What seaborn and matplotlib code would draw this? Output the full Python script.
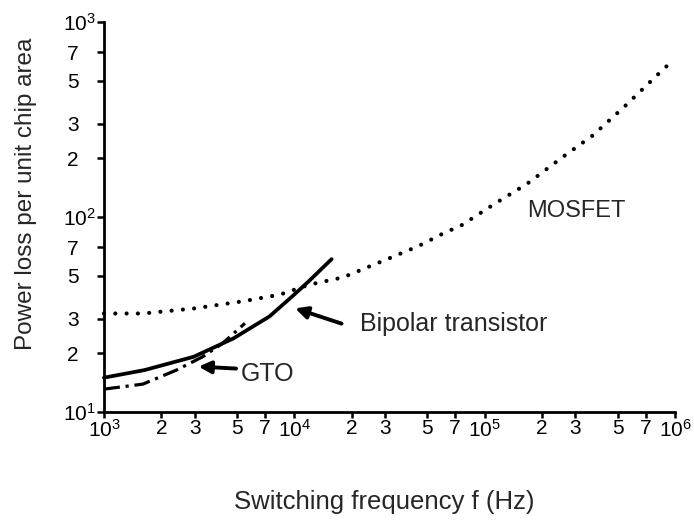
import matplotlib
matplotlib.use("Agg")
import matplotlib.pyplot as plt
import seaborn as sns
import pandas as pd
from matplotlib.ticker import FixedLocator, FixedFormatter

# ---- data (frequency in Hz, power loss per unit chip area) ----
mosfet_f = [1.0e3, 1.6e3, 3.0e3, 5.4e3, 8.4e3, 1.2e4, 1.8e4, 3.1e4, 4.5e4, 6.0e4,
            7.6e4, 1.13e5, 1.67e5, 2.5e5, 3.7e5, 5.5e5, 8.9e5, 1.0e6]
mosfet_p = [32, 32, 34, 37, 40, 45, 49, 61, 71, 82,
            91, 117, 148, 199, 262, 373, 586, 640]

bipolar_f = [1.0e3, 1.63e3, 2.96e3, 4.77e3, 7.4e3, 9.76e3, 1.19e4, 1.57e4]
bipolar_p = [15.0, 16.4, 19.2, 23.8, 30.9, 39.2, 46.8, 60.8]

gto_f = [1.0e3, 1.6e3, 2.4e3, 3.3e3, 4.2e3, 5.5e3]
gto_p = [13.1, 13.9, 16.4, 19.2, 22.5, 28.5]

x_major = [1e3, 1e4, 1e5, 1e6]
x_major_labels = [r"$\mathregular{10^{3}}$", r"$\mathregular{10^{4}}$",
                  r"$\mathregular{10^{5}}$", r"$\mathregular{10^{6}}$"]
x_minor = [2e3, 3e3, 5e3, 7e3, 2e4, 3e4, 5e4, 7e4, 2e5, 3e5, 5e5, 7e5]
x_minor_labels = ["2", "3", "5", "7"] * 3
y_major = [10, 100, 1000]
y_major_labels = [r"$\mathregular{10^{1}}$", r"$\mathregular{10^{2}}$", r"$\mathregular{10^{3}}$"]
y_minor = [20, 30, 50, 70, 200, 300, 500, 700]
y_minor_labels = ["2", "3", "5", "7"] * 2

# ---- style ----
sns.set_style("ticks")
plt.rcParams["font.family"] = ["Liberation Sans", "DejaVu Sans"]
plt.rcParams["mathtext.fontset"] = "custom"
plt.rcParams["mathtext.rm"] = "Liberation Sans"
plt.rcParams["mathtext.it"] = "Liberation Sans:italic"
plt.rcParams["mathtext.bf"] = "Liberation Sans:bold"

fig = plt.figure(figsize=(6.94, 5.25), dpi=100)
ax = fig.add_axes([104 / 694, 1 - 412 / 525, (675 - 104) / 694, (412 - 22) / 525])

sns.lineplot(x=mosfet_f, y=mosfet_p, ax=ax, color="black", lw=3.0,
             linestyle=(0, (0.01, 2.7)), dash_capstyle="round",
             estimator=None, sort=False, clip_on=False)
sns.lineplot(x=bipolar_f, y=bipolar_p, ax=ax, color="black", lw=2.7,
             estimator=None, sort=False, clip_on=False)
sns.lineplot(x=gto_f, y=gto_p, ax=ax, color="black", lw=2.3,
             linestyle=(0, (5, 1.8, 1, 1.8)),
             estimator=None, sort=False, clip_on=False)

ax.set_xscale("log")
ax.set_yscale("log")
ax.set_xlim(1e3, 1e6)
ax.set_ylim(10, 1000)

ax.xaxis.set_major_locator(FixedLocator(x_major))
ax.xaxis.set_major_formatter(FixedFormatter(x_major_labels))
ax.xaxis.set_minor_locator(FixedLocator(x_minor))
ax.xaxis.set_minor_formatter(FixedFormatter(x_minor_labels))
ax.yaxis.set_major_locator(FixedLocator(y_major))
ax.yaxis.set_major_formatter(FixedFormatter(y_major_labels))
ax.yaxis.set_minor_locator(FixedLocator(y_minor))
ax.yaxis.set_minor_formatter(FixedFormatter(y_minor_labels))

ax.tick_params(axis="both", which="both", labelsize=15, colors="black",
               width=1.8, direction="out")
ax.tick_params(axis="x", which="both", length=4, pad=1)
ax.tick_params(axis="y", which="major", length=5, pad=1)
ax.tick_params(axis="y", which="minor", length=5, pad=13)

for s in ["top", "right"]:
    ax.spines[s].set_visible(False)
for s in ["left", "bottom"]:
    ax.spines[s].set_linewidth(2.0)
    ax.spines[s].set_color("black")

ax.set_xlabel("Switching frequency f (Hz)", fontsize=18.5)
ax.set_ylabel("Power loss per unit chip area", fontsize=17.5)
ax.xaxis.set_label_coords(0.49, -0.2)
ax.yaxis.set_label_coords(-0.118, 0.56)

# ---- annotations ----
ax.text(1.67e5, 107, "MOSFET", fontsize=17, va="center", ha="left")
ax.text(2.2e4, 28.4, "Bipolar transistor", fontsize=18, va="center", ha="left")
ax.text(5.25e3, 15.7, "GTO", fontsize=18, va="center", ha="left")
ax.annotate("", xy=(1.01e4, 34), xytext=(1.77e4, 28.4),
            arrowprops=dict(arrowstyle="-|>", lw=2.8, color="black",
                            mutation_scale=18, shrinkA=0, shrinkB=0))
ax.annotate("", xy=(3.14e3, 17.1), xytext=(4.94e3, 16.7),
            arrowprops=dict(arrowstyle="-|>", lw=2.8, color="black",
                            mutation_scale=18, shrinkA=0, shrinkB=0))

fig.savefig("out.png", dpi=100)
